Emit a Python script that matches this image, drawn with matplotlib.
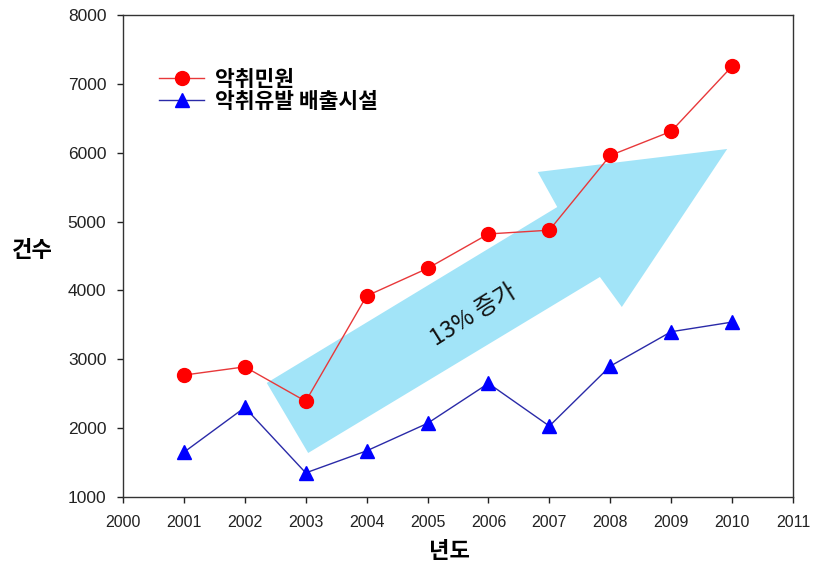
import matplotlib
matplotlib.use("Agg")
import matplotlib.pyplot as plt
from matplotlib.patches import Polygon

plt.rcParams['font.family'] = ['Liberation Sans', 'Noto Sans CJK KR', 'DejaVu Sans']

years = [2001, 2002, 2003, 2004, 2005, 2006, 2007, 2008, 2009, 2010]
complaints = [2770, 2890, 2390, 3920, 4320, 4820, 4875, 5960, 6310, 7255]
facilities = [1650, 2300, 1350, 1670, 2070, 2650, 2030, 2900, 3400, 3540]
label_complaints = "악취민원"
label_facilities = "악취유발 배출시설"
xticks = list(range(2000, 2012))
yticks = list(range(1000, 9000, 1000))
arrow_text = "13% 증가"

# decorative arrow outline (data coordinates)
arrow_x = [2002.36, 2003.04, 2007.83, 2008.19, 2009.92, 2006.81, 2007.13]
arrow_y = [2656, 1639, 4195, 3759, 6054, 5720, 5211]

fig = plt.figure(figsize=(8.18, 5.70), dpi=100)
ax = fig.add_axes([0.1504, 0.1281, 0.8190, 0.8456])

ax.add_patch(Polygon(list(zip(arrow_x, arrow_y)), closed=True,
                     facecolor='#a2e4f8', edgecolor='none', zorder=1))

ax.plot(years, complaints, color='#e8383a', lw=1.0, marker='o', markersize=10,
        markerfacecolor='#ff0000', markeredgecolor='#ff0000', label=label_complaints, zorder=3)
ax.plot(years, facilities, color='#2a2aa8', lw=1.0, marker='^', markersize=10,
        markerfacecolor='#0000ff', markeredgecolor='#0000ff', label=label_facilities, zorder=3)

ax.text(2005.75, 3640, arrow_text, rotation=32, rotation_mode='anchor',
        ha='center', va='center', fontsize=17,
        family=['Noto Sans CJK KR', 'DejaVu Sans'], color='#111111', zorder=4)

ax.set_xlim(2000, 2011)
ax.set_ylim(1000, 8000)
ax.set_xticks(xticks)
ax.set_xticklabels([str(t) for t in xticks])
ax.set_yticks(yticks)
ax.set_yticklabels([str(t) for t in yticks])
ax.tick_params(axis='both', direction='out', length=4, width=1,
               colors='#222222')
ax.tick_params(axis='x', pad=9, labelsize=11.5)
ax.tick_params(axis='y', pad=8, labelsize=12.5)
for s in ax.spines.values():
    s.set_linewidth(1.0)
    s.set_color('#333333')

ax.set_xlabel("년도", fontsize=16, fontweight='bold',
              family=['Noto Sans CJK KR', 'DejaVu Sans'], va='center', ha='center')
ax.xaxis.set_label_coords(0.488, -0.114)
ax.set_ylabel("건수", fontsize=16, fontweight='bold', rotation=0,
              family=['Noto Sans CJK KR', 'DejaVu Sans'], va='center', ha='center')
ax.yaxis.set_label_coords(-0.135, 0.512)

leg = ax.legend(loc='upper left', bbox_to_anchor=(0.038, 0.911), frameon=False,
                prop={'family': ['Noto Sans CJK KR', 'DejaVu Sans'], 'weight': 'bold', 'size': 15.5},
                handlelength=2.1, handletextpad=0.5, labelspacing=0.05, borderpad=0)

fig.savefig("out.png", dpi=100)
